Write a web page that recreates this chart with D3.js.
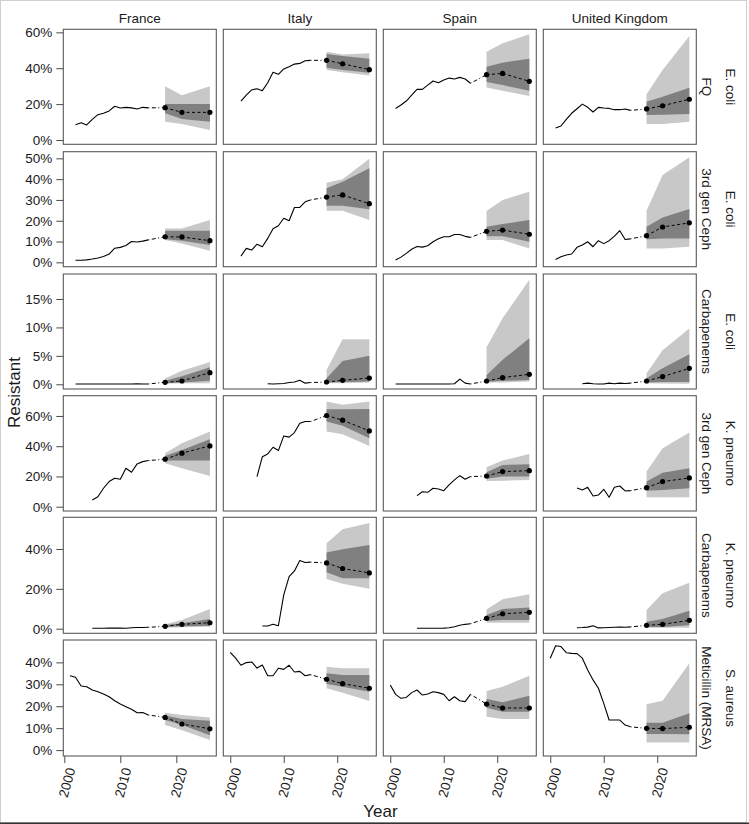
<!DOCTYPE html>
<html><head><meta charset="utf-8">
<script src="https://cdn.jsdelivr.net/npm/d3@7/dist/d3.min.js"></script>
<style>
body{margin:0;background:#fff;}
svg{display:block;font-family:"Liberation Sans",Arial,sans-serif;}
</style></head>
<body>
<svg id="chart" width="749" height="824"></svg>
<script>
// ---------- DATA ----------
const countries = ["France", "Italy", "Spain", "United Kingdom"];
const rowLabels = [["E. coli","FQ"],["E. coli","3rd gen Ceph"],["E. coli","Carbapenems"],
                   ["K. pneumo","3rd gen Ceph"],["K. pneumo","Carbapenems"],["S. aureus","Meticillin (MRSA)"]];
const yTickValues = [[0,20,40,60],[0,10,20,30,40,50],[0,5,10,15],[0,20,40,60],[0,20,40],[0,10,20,30,40]];
const xTickValues = [2000, 2010, 2020];
const forecastYears = [2018, 2021, 2026];
const histEndYear = 2015;

// first observed year per row, per country (France, Italy, Spain, UK)
const histStart = [[2002,2002,2001,2001],[2002,2002,2001,2001],[2002,2007,2001,2006],
                   [2005,2005,2005,2005],[2005,2006,2005,2005],[2001,2000,2000,2000]];

// observed % resistant, yearly from start year to 2015
const histEcoliFQ = [
  [8.5,9.6,8.4,11.5,14.1,14.9,16.2,18.8,17.8,18.2,17.9,17.3,18.2,17.9],
  [21.7,25,27.9,28.6,27.5,31.9,37.7,36.6,39.6,40.8,42.3,42.7,44.2,44.4],
  [17.6,19.5,21.7,25,28.2,28.2,30.6,32.9,31.9,33.4,34.5,34,34.9,34,31.6],
  [6.7,7.8,11.5,14.9,17.4,20,18.2,15.6,18.2,17.8,17.6,16.9,16.9,17.3,16.5]];
const histEcoli3GC = [
  [1,1,1.2,1.6,2.1,2.8,4,6.8,7.2,8.1,10,9.8,10.2,10.8],
  [3,6.7,5.9,8.7,7.5,11.5,16.2,17.6,21.2,20,26.4,26.4,29.1,30],
  [1.1,2.5,4.3,6.3,7.6,7.3,8,9.9,11.3,12.3,12.3,13.4,13.4,12.5,12],
  [1.4,2.7,3.5,4,7.2,8.3,9.9,7.5,10.4,9,10.4,12.6,15.2,11,11.3]];
const histEcoliCarb = [
  [0.05,0.05,0.05,0.05,0.05,0.05,0.05,0.05,0.05,0.05,0.05,0.1,0.05,0.05],
  [0.1,0.05,0.1,0.15,0.3,0.4,0.7,0.2,0.3],
  [0.05,0.05,0.05,0.05,0.05,0.05,0.05,0.05,0.05,0.05,0.05,0.1,0.9,0.2,0.05],
  [0.1,0.2,0.1,0.05,0.05,0.2,0.1,0.2,0.15,0.2]];
const histKpn3GC = [
  [4.4,6.6,12.2,16.6,18.8,18.1,25.4,22.8,28.3,29.8,30.5],
  [19.9,33.1,34.9,39.3,37.1,46.8,46,49,55.2,56.3,56.3],
  [7.3,9.9,9.5,12.2,11.7,10.6,14.4,17.7,20.5,18.1,19.9],
  [12.4,11.1,12.8,7.1,7.7,11.5,6.2,12.8,13.7,10.4,10.6]];
const histKpnCarb = [
  [0.2,0.2,0.2,0.3,0.3,0.3,0.2,0.5,0.6,0.6,0.7],
  [1.4,1.4,2.2,1.5,17,26.1,29,34.2,33.2,33.4],
  [0.2,0.2,0.2,0.2,0.2,0.3,0.5,1.0,1.7,2.2,2.5],
  [0.5,0.6,0.8,1.5,0.4,0.5,0.6,0.7,0.8,0.7,0.9]];
const histMRSA = [
  [33.9,33.2,29.2,28.9,27.4,26.6,25.6,24.3,22.5,21,19.8,18.6,17,17.1,16],
  [44.6,41.9,38.7,39.9,40.2,37.4,38.8,33.9,33.9,37.3,36.8,38.7,35.6,35.9,33.9,34.4],
  [29.7,25.4,23.6,24,26.2,27.4,25.1,25.6,26.6,26.2,25.4,22.5,24.3,22.5,22.1,25.4],
  [41.9,47.6,47.2,44.4,44.1,44,41.9,36.5,32,28.2,21.3,13.7,13.7,13.7,11.4,10.6]];

// forecast medians at 2018, 2021, 2026
const midEcoliFQ    = [[18,15.4,15.4],[44.4,42.5,39.2],[36.4,37.1,32.7],[17.3,19.1,22.7]];
const midEcoli3GC   = [[12.3,12.2,10.4],[31.4,32.4,28.2],[14.9,15.5,13.5],[12.8,17,19]];
const midEcoliCarb  = [[0.35,0.58,2.05],[0.4,0.7,1.1],[0.58,1.17,1.76],[0.58,1.35,2.8]];
const midKpn3GC     = [[31.4,35.4,40.2],[60.3,57.2,50.1],[20.3,23.2,23.8],[12.6,16.6,19]];
const midKpnCarb    = [[1.2,2.2,3.0],[33,30.2,28],[5.2,7.5,8.2],[1.7,2.2,4.2]];
const midMRSA       = [[14.9,11.9,9.7],[32.3,30.3,28.2],[21,19.2,19.2],[9.9,9.8,10.4]];

// inner (dark) interval [low, high] at 2018, 2021, 2026
const innerEcoliFQ = [[[14.9,20],[11.7,20],[10.2,20]],[[40.3,47.9],[39,46.8],[37.5,45.3]],
  [[32.3,40.8],[30.6,43.1],[27.5,45.3]],[[13.9,21.3],[14.1,24.1],[14.5,29.1]]];
const innerEcoli3GC = [[[11.1,15.2],[10.4,15.2],[8.3,15.2]],[[27.2,35.6],[27.2,38.8],[25.5,45.2]],
  [[12.6,17.1],[12.6,18.4],[9.9,20.3]],[[11.1,17.1],[11.5,21.6],[11.5,25.6]]];
const innerEcoliCarb = [[[0.2,0.6],[0.3,1.4],[0.6,3.0]],[[0.3,1.05],[0.4,4.1],[0.5,5]],
  [[0.4,1.6],[0.6,4.3],[0.75,8.1]],[[0.3,1.05],[0.4,2.8],[0.4,5.3]]];
const innerKpn3GC = [[[30.5,33.6],[30.5,37.5],[30.5,44.6]],[[56.3,64.5],[53.6,64.5],[45.3,64.6]],
  [[18.5,22.8],[19.9,27.6],[19.9,28.1]],[[10.6,16.6],[11.1,22.5],[12.2,25.4]]];
const innerKpnCarb = [[[0.8,1.9],[1.2,2.7],[1.5,4.9]],[[28.3,38.2],[25.3,39.9],[25.3,42]],
  [[3.9,6.9],[4.4,9.9],[4.4,10.7]],[[0.9,3.5],[0.9,4.9],[1.7,9]]];
const innerMRSA = [[[13.7,15.8],[11.4,14.2],[6.8,13.4]],[[30.1,35],[28.9,34.2],[26.6,34.2]],
  [[19.3,23.3],[17.5,21.8],[17.5,24.8]],[[7.3,12.5],[7.3,12.5],[7.2,16.8]]];

// outer (light) interval [low, high] at 2018, 2021, 2026
const outerEcoliFQ = [[[10.2,29.9],[8.9,25],[5.6,29.9]],[[39,49.2],[37.7,47.7],[36,48.3]],
  [[29.3,49.2],[27.5,53.9],[24.5,58.9]],[[8.9,25.5],[8.9,39],[10.2,57.9]]];
const outerEcoli3GC = [[[10.7,16.3],[9.1,16.3],[5.6,20.3]],[[24.8,38.3],[24.8,40],[20.3,49.8]],
  [[10.7,24.7],[10.7,30],[6.7,33.9]],[[6.7,24.8],[6.7,42],[7.5,50.5]]];
const outerEcoliCarb = [[[0.1,1.0],[0.2,2.4],[0.2,3.9]],[[0.2,2.5],[0.2,7.9],[0.3,7.9]],
  [[0.3,6.5],[0.3,11.6],[0.5,18.4]],[[0.2,1.9],[0.15,6],[0.1,9.8]]];
const outerKpn3GC = [[[28.7,35.4],[25.4,42],[20.3,49.7]],[[49.7,69.5],[47.9,67.4],[40.2,69.5]],
  [[17,26.1],[17.2,30.5],[17.7,34.9]],[[6.2,23.2],[6.2,38.7],[6.2,49]]];
const outerKpnCarb = [[[0.5,2.2],[0.7,4.4],[1.0,9.9]],[[25,42.9],[22.5,49.9],[20.1,53]],
  [[3,9.7],[3,14.8],[3,17.3]],[[0.5,9.4],[0.5,17.8],[0.5,23.1]]];
const outerMRSA = [[[11.4,17],[9.1,16],[4.6,14.9]],[[28.2,38],[26.2,37.3],[22.4,37.3]],
  [[15.2,26.9],[14.2,28.9],[14.2,33.9]],[[3.5,20.9],[3.5,22.5],[3.4,39.6]]];

// y ranges per row (in %), x ranges per column (years)
const yDomains = [[-2.4,61.7],[-2.1,53.2],[-0.83,19.4],[-2.85,73.4],[-2.3,55.9],[-2.7,50.2]];
const xDomains = [[1999.82,2027.14],[1998.7,2027.3],[1998.7,2027.3],[1998.7,2027.3]];

const histRows  = [histEcoliFQ, histEcoli3GC, histEcoliCarb, histKpn3GC, histKpnCarb, histMRSA];
const midRows   = [midEcoliFQ, midEcoli3GC, midEcoliCarb, midKpn3GC, midKpnCarb, midMRSA];
const innerRows = [innerEcoliFQ, innerEcoli3GC, innerEcoliCarb, innerKpn3GC, innerKpnCarb, innerMRSA];
const outerRows = [outerEcoliFQ, outerEcoli3GC, outerEcoliCarb, outerKpn3GC, outerKpnCarb, outerMRSA];

// ---------- LAYOUT ----------
const colLeft = [63.3, 223.3, 383.3, 543.3];
const panelW = 153;
const rowTop = [29.3, 151.7, 274, 395.7, 517.3, 640];
const rowBottom = [144.3, 266.7, 389, 511, 633.3, 756];
const FONT = "13.5px";
const TXT = "#1a1a1a";

const svg = d3.select("#chart");

// outer frame
svg.append("rect").attr("x",0.5).attr("y",0.5).attr("width",746).attr("height",822)
  .attr("fill","none").attr("stroke","#cfcfcf");
svg.append("line").attr("x1",0).attr("x2",749).attr("y1",823.2).attr("y2",823.2)
  .attr("stroke","#333").attr("stroke-width",1.5);

const xScales = colLeft.map((l,c) => d3.scaleLinear().domain(xDomains[c]).range([l, l+panelW]));
const yScales = rowTop.map((t,r) => d3.scaleLinear().domain(yDomains[r]).range([rowBottom[r], t]));

for (let r = 0; r < 6; r++) {
  for (let c = 0; c < 4; c++) {
    const x = xScales[c], y = yScales[r];
    const g = svg.append("g");
    const fc = forecastYears.map((yr,i) => ({yr, mid: midRows[r][c][i],
      ilo: innerRows[r][c][i][0], ihi: innerRows[r][c][i][1],
      olo: outerRows[r][c][i][0], ohi: outerRows[r][c][i][1]}));
    g.append("path").datum(fc).attr("fill","#c8c8c8")
      .attr("d", d3.area().x(d=>x(d.yr)).y0(d=>y(d.olo)).y1(d=>y(d.ohi)));
    g.append("path").datum(fc).attr("fill","#808080")
      .attr("d", d3.area().x(d=>x(d.yr)).y0(d=>y(d.ilo)).y1(d=>y(d.ihi)));
    const hist = histRows[r][c].map((v,i) => ({yr: histStart[r][c]+i, v}));
    g.append("path").datum(hist).attr("fill","none").attr("stroke","#000").attr("stroke-width",1.1)
      .attr("stroke-linejoin","round")
      .attr("d", d3.line().x(d=>x(d.yr)).y(d=>y(d.v)));
    const last = hist[hist.length-1];
    g.append("path").datum([{yr:last.yr, v:last.v},{yr:fc[0].yr, v:fc[0].mid}])
      .attr("fill","none").attr("stroke","#000").attr("stroke-width",1)
      .attr("stroke-dasharray","1,2.5,4,2.5")
      .attr("d", d3.line().x(d=>x(d.yr)).y(d=>y(d.v)));
    g.append("path").datum(fc).attr("fill","none").attr("stroke","#000").attr("stroke-width",1)
      .attr("stroke-dasharray","3,2.5")
      .attr("d", d3.line().x(d=>x(d.yr)).y(d=>y(d.mid)));
    g.selectAll("circle").data(fc).join("circle")
      .attr("cx",d=>x(d.yr)).attr("cy",d=>y(d.mid)).attr("r",2.6).attr("fill","#000");
    g.append("rect").attr("x",colLeft[c]).attr("y",rowTop[r]).attr("width",panelW)
      .attr("height",rowBottom[r]-rowTop[r]).attr("fill","none").attr("stroke","#5a5a5a").attr("stroke-width",1.1);

    if (c === 0) {
      const ax = svg.append("g").attr("transform",`translate(${colLeft[0]},0)`)
        .call(d3.axisLeft(y).tickValues(yTickValues[r]).tickFormat(d=>d+"%").tickSize(7).tickPadding(4));
      ax.select(".domain").remove();
      ax.selectAll("line").attr("stroke","#4a4a4a");
      ax.selectAll("text").attr("font-size",FONT).attr("fill",TXT).attr("font-family","Liberation Sans, Arial, sans-serif");
    }
    if (r === 5) {
      const ax = svg.append("g").attr("transform",`translate(0,${rowBottom[5]})`)
        .call(d3.axisBottom(x).tickValues(xTickValues).tickFormat(d3.format("d")).tickSize(7));
      ax.select(".domain").remove();
      ax.selectAll("line").attr("stroke","#4a4a4a");
      ax.selectAll("text").attr("font-size",FONT).attr("fill",TXT)
        .attr("font-family","Liberation Sans, Arial, sans-serif")
        .attr("text-anchor","end").attr("dy","0.35em").attr("y",0)
        .attr("transform","translate(6,12) rotate(-75)");
    }
  }
  // row strip label (right)
  const cy = (rowTop[r] + rowBottom[r]) / 2;
  const lab = rowLabels[r];
  svg.append("text").attr("transform",`translate(730,${cy}) rotate(90)`)
    .attr("text-anchor","middle").attr("dominant-baseline","central")
    .attr("font-size",FONT).attr("fill",TXT).text(lab[0]);
  svg.append("text").attr("transform",`translate(706.5,${cy}) rotate(90)`)
    .attr("text-anchor","middle").attr("dominant-baseline","central")
    .attr("font-size",FONT).attr("fill",TXT).text(lab[1]);
}

// column headers
countries.forEach((name,c) => {
  svg.append("text").attr("x", colLeft[c]+panelW/2).attr("y", 23)
    .attr("text-anchor","middle").attr("font-size",FONT).attr("fill",TXT).text(name);
});

// axis titles
svg.append("text").attr("transform","translate(20,392.5) rotate(-90)")
  .attr("text-anchor","middle").attr("font-size","17px").attr("fill",TXT).text("Resistant");
svg.append("text").attr("x",380.5).attr("y",817)
  .attr("text-anchor","middle").attr("font-size","17px").attr("fill",TXT).text("Year");
</script>
</body></html>
